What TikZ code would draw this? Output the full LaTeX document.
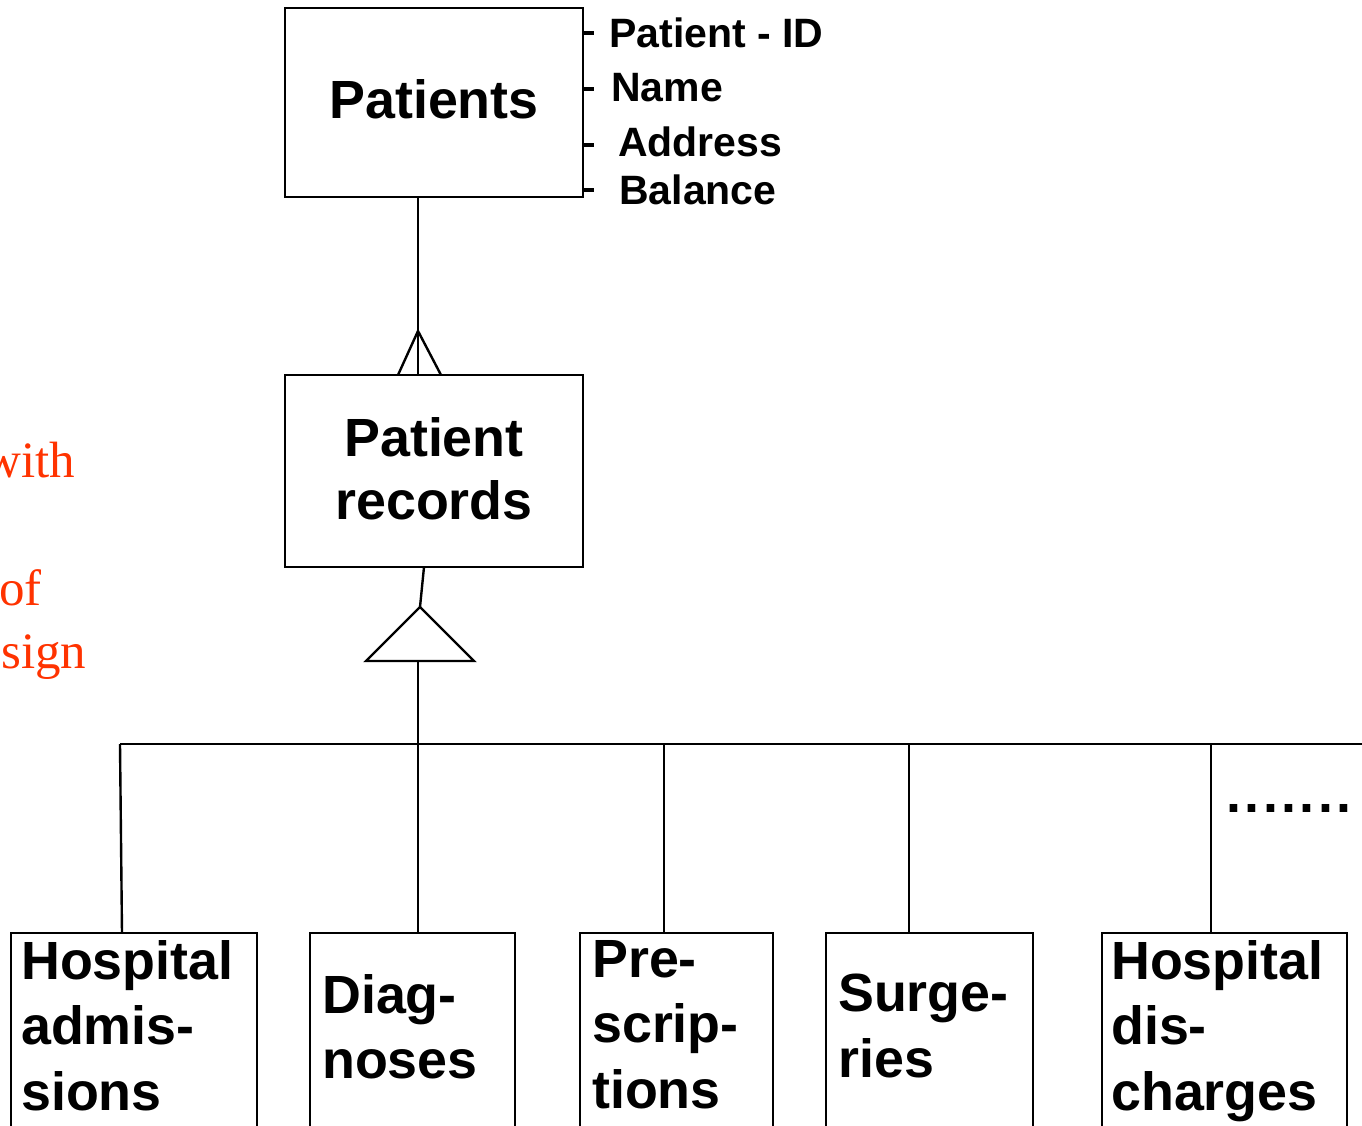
\documentclass[tikz,border=0pt]{standalone}
\usepackage{fontspec}
\setmainfont{Liberation Sans}
\newfontfamily\serifred{Liberation Serif}
\usetikzlibrary{calc}
\definecolor{redtxt}{RGB}{255,51,0}
\begin{document}
\begin{tikzpicture}[x=1pt,y=-1pt, line width=2.4pt,
  ent/.style={draw, rectangle, inner sep=0pt, outer sep=0pt},
  big/.style={font=\fontsize{53.8}{65.5}\selectfont\bfseries, inner sep=0pt},
  lbl/.style={big, anchor=north west, align=left},
  attr/.style={font=\fontsize{41}{46}\selectfont\bfseries, inner sep=0pt, anchor=base west},
  tick/.style={line width=3.2pt},
  note/.style={text=redtxt, font=\fontsize{51}{60}\selectfont\serifred, inner sep=0pt, anchor=base west}]
\useasboundingbox (0,0) rectangle (1362,1125);
\clip (0,0) rectangle (1362,1125);
\fill[white] (0,0) rectangle (1362,1125);

% red side text (cut at left edge, as in the reference)
\node[note] (n1) at (-17,477) {with};
\node[note] (n2) at (-2,605) {of};
\node[note] (n3) at (0,668) {sign};

% Patients entity
\node[ent, minimum width=298pt, minimum height=189pt] (P) at (434,102.5) {};
\node[big, anchor=base] (Ptxt) at (434,118.5) {Patients};

% attribute ticks
\foreach \yy/\nm in {33/a1, 89/a2, 145/a3, 190/a4}{
  \coordinate (t\nm) at (594,\yy);
  \draw[tick] (P.east |- t\nm) -- (t\nm);
}
\node[attr] (a1) at (608,47) {Patient - ID};
\node[attr] (a2) at (610,101) {Name};
\node[attr] (a3) at (617,156) {Address};
\node[attr] (a4) at (618,204) {Balance};

% Patient records entity
\node[ent, minimum width=298pt, minimum height=192pt] (R) at (434,471) {};
\node[font=\fontsize{53.8}{63}\selectfont\bfseries, inner sep=0pt, anchor=north, align=center] (Rtxt) at (434,416) {Patient\\records};

% one-to-many (crow's foot)
\coordinate (cx) at (418,0);
\coordinate (apex) at (418,331);
\draw (P.south -| cx) -- (R.north -| cx);
\draw ($(R.north -| cx)+(-20,0)$) -- (apex) -- ($(R.north -| cx)+(23,0)$);

% generalisation triangle
\coordinate (tA) at (420,607);
\coordinate (tL) at (366,661);
\coordinate (tR) at (474,661);
\coordinate (tB) at (418,661);
\draw ($(R.south -| cx)+(6,0)$) -- (tA);
\draw[line join=miter] (tL) -- (tA) -- (tR) -- cycle;

% bus
\coordinate (busL) at (120,744);
\coordinate (busR) at (1370,744);
\draw (busL) -- (busR);
\draw (tB) -- (tB |- busL);

% sub-entities (open at the bottom edge)
\node[ent, minimum width=246pt, minimum height=260pt, anchor=north west] (b1) at (11,933) {};
\node[ent, minimum width=205pt, minimum height=260pt, anchor=north west] (b2) at (310,933) {};
\node[ent, minimum width=193pt, minimum height=260pt, anchor=north west] (b3) at (580,933) {};
\node[ent, minimum width=207pt, minimum height=260pt, anchor=north west] (b4) at (826,933) {};
\node[ent, minimum width=245pt, minimum height=260pt, anchor=north west] (b5) at (1102,933) {};

\coordinate (j1) at ($(b1.north west)+(111,0)$);
\coordinate (j2) at ($(b2.north west)+(108,0)$);
\coordinate (j3) at ($(b3.north west)+(84,0)$);
\coordinate (j4) at ($(b4.north west)+(83,0)$);
\coordinate (j5) at ($(b5.north west)+(109,0)$);
\draw (busL) -- (j1);
\draw (j2) -- (j2 |- busL);
\draw (j3) -- (j3 |- busL);
\draw (j4) -- (j4 |- busL);
\draw (j5) -- (j5 |- busL);

\node[lbl] (l1) at (20,939) {Hospital\\admis-\\sions};
\node[lbl] (l2) at (321,973) {Diag-\\noses};
\node[lbl] (l3) at (591,939) {Pre-\\scrip-\\tions};
\node[lbl] (l4) at (837,973) {Surge-\\ries};
\node[lbl] (l5) at (1110,939) {Hospital\\dis-\\charges};

\node[big, anchor=base west] (dots) at (1225.3,812) {.\kern3.4pt.\kern3.4pt.\kern3.4pt.\kern3.4pt.\kern3.4pt.\kern3.4pt.};
\end{tikzpicture}
\end{document}
